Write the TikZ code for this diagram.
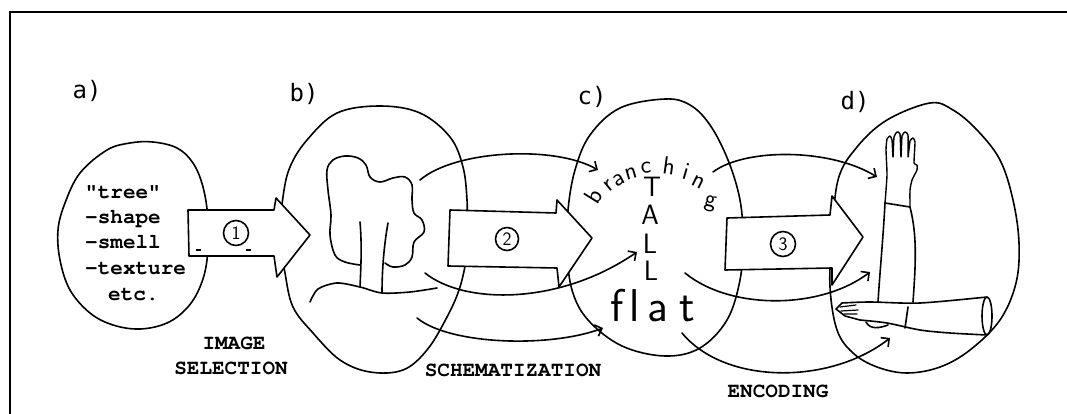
\documentclass[tikz,border=0pt]{standalone}
\usepackage{fontspec}
\newfontfamily\monofam{TeX Gyre Cursor}
\newfontfamily\labfam{DejaVu Sans Mono}
\usetikzlibrary{arrows.meta}
\begin{document}
\begin{tikzpicture}[x=1pt,y=-1pt]
\tikzset{
  ink/.style={line width=1.6pt, line cap=round, line join=round},
  bigarr/.style={ink, draw, fill=white},
  conn/.style={ink, -{Straight Barb[length=6pt,width=12pt]}},
  monotxt/.style={font=\monofam\bfseries\fontsize{21}{25}\selectfont, inner sep=0pt},
  tag/.style={font=\labfam\fontsize{24}{28}\selectfont, inner sep=0pt},
  handw/.style={font=\sffamily\fontsize{25}{30}\selectfont, inner sep=0pt},
  tallw/.style={font=\sffamily\fontsize{28}{30}\selectfont, inner sep=0pt},
  flatw/.style={font=\sffamily\fontsize{46}{50}\selectfont, inner sep=0pt, anchor=base},
  numc/.style={circle, draw, ink, fill=white, inner sep=0pt, minimum size=25pt, font=\sffamily\fontsize{19}{19}\selectfont},
}
\useasboundingbox (0,0) rectangle (1067,414);
% frame
\draw[line width=2.5pt] (1067,12) -- (10,12) -- (10,414);

% blobs
\draw[ink] plot[smooth cycle, tension=0.6] coordinates {(153,142) (177,148) (193,163) (203,187) (208,220) (207,260) (200,287) (187,308) (167,323) (140,329) (113,325) (90,313) (70,290) (60,260) (58,230) (65,203) (80,173) (107,150) (130,143)};
\draw[ink] plot[smooth cycle, tension=0.6] coordinates {(380,106) (420,113) (450,137) (463,167) (467,200) (467,227) (467,253) (460,287) (447,317) (427,350) (403,370) (370,372) (340,360) (313,333) (293,307) (285,273) (280,237) (283,197) (290,167) (307,140) (337,113)};
\draw[ink] plot[smooth cycle, tension=0.6] coordinates {(665,99) (690,105) (710,125) (728,160) (740,200) (743,240) (740,280) (727,320) (700,348) (665,356) (622,346) (588,320) (572,290) (567,250) (568,210) (575,170) (590,135) (620,108)};
\draw[ink] plot[smooth cycle, tension=0.6] coordinates {(930,103) (953,110) (977,130) (1000,160) (1013,200) (1019,243) (1016,283) (1000,320) (970,350) (940,367) (907,373) (877,367) (853,353) (837,330) (830,287) (832,240) (838,180) (857,147) (887,120)};

% tree
\draw[ink] plot[smooth, tension=0.6] coordinates {(360,265) (345,262) (335,255) (330,235) (331,215) (328,190) (327,170) (333,160) (345,156) (358,158) (366,165) (370,177) (380,182) (393,178) (405,177) (412,185) (412,200) (414,213) (422,220) (424,232) (414,242) (412,257) (405,265) (393,267) (385,263)};
\draw[ink] (360,222) .. controls (362,245) and (361,265) .. (360,287);
\draw[ink] (388,223) .. controls (384,245) and (382,270) .. (382,293);
\draw[ink] plot[smooth] coordinates {(310,302) (318,289) (337,283) (360,287) (382,293) (410,292) (437,288)};

% connectors
\coordinate (bs1) at (420,180); \coordinate (ce1) at (598,170);
\coordinate (bs2) at (425,273); \coordinate (ce2) at (637,252);
\coordinate (bs3) at (417,318); \coordinate (ce3) at (603,328);
\coordinate (cs1) at (713,172); \coordinate (de1) at (877,177);
\coordinate (cs2) at (685,273); \coordinate (de2) at (870,272);
\coordinate (cs3) at (682,333); \coordinate (de3) at (890,338);
\draw[conn] (bs1) .. controls (455,150) and (555,145) .. (ce1);
\draw[conn] (bs2) .. controls (465,305) and (560,305) .. (ce2);
\draw[conn] (bs3) .. controls (450,345) and (550,348) .. (ce3);
\draw[conn] (cs1) .. controls (745,148) and (830,148) .. (de1);
\draw[conn] (cs2) .. controls (730,310) and (820,310) .. (de2);
\draw[conn] (cs3) .. controls (725,385) and (830,385) .. (de3);

% big arrows
\draw[bigarr] (188,210) -- (274,210) -- (276,198) -- (310,235) -- (277,277) -- (274,256) -- (189,256) -- cycle;
\draw[bigarr] (450,210) -- (556,213) -- (557,200) -- (592,238) -- (559,287) -- (557,268) -- (448,266) -- cycle;
\draw[bigarr] (727,218) -- (830,215) -- (832,196) -- (863,237) -- (832,285) -- (832,268) -- (725,270) -- cycle;
\node[numc] (n1) at (236,233) {1};
\node[numc, minimum size=23pt] (n2) at (507,239) {2};
\node[numc] (n3) at (783,244) {3};
\draw[line width=1.2pt] (196,250) -- (201,250) (246,250) -- (251,250);

% labels
\node[tag] (la) at (87,91) {a)};
\node[tag] (lb) at (304,94) {b)};
\node[tag] (lc) at (592,97) {c)};
\node[tag] (ld) at (855,102) {d)};

% text in a
\node[monotxt, anchor=base west] (t1) at (85,198) {"tree"};
\node[monotxt, anchor=base west] (t2) at (85,223) {-shape};
\node[monotxt, anchor=base west] (t3) at (85,248) {-smell};
\node[monotxt, anchor=base west] (t4) at (85,274) {-texture};
\node[monotxt, anchor=base west] (t5) at (108,300) {etc.};

% captions
\node[monotxt] (cap1) at (234,343) {IMAGE};
\node[monotxt] (cap2) at (231,368) {SELECTION};
\node[monotxt] (cap3) at (513,370) {SCHEMATIZATION};
\node[monotxt] (cap4) at (778,391) {ENCODING};

% handwriting in c
\node[handw, rotate=58] (w1) at (593,196) {b};
\node[handw, rotate=40] (w2) at (609,186) {r};
\node[handw, rotate=28] (w3) at (619,180) {a};
\node[handw, rotate=16] (w4) at (631,174) {n};
\node[handw, rotate=4] (w5) at (646,168) {c};
\node[handw, rotate=-8] (w6) at (669,166) {h};
\node[handw, rotate=-16] (w7) at (686,171) {i};
\node[handw, rotate=-26] (w8) at (698,182) {n};
\node[handw, rotate=-12] (w9) at (710,204) {g};
\node[tallw] (T1) at (652,187) {T};
\node[tallw] (T2) at (650,215) {A};
\node[tallw] (T3) at (650,244) {L};
\node[tallw] (T4) at (651,271) {L};
\node[flatw] (f1) at (617,321) {f};
\node[flatw] (f2) at (635,321) {l};
\node[flatw] (f3) at (658,321) {a};
\node[flatw] (f4) at (687,321) {t};

% raised arm
\draw[ink] (885,203) .. controls (883,240) and (880,270) .. (878,302);
\draw[ink] (910,207) .. controls (917,235) and (916,260) .. (913,302);
\draw[ink] (885,203) -- (910,207);
\draw[ink, line width=1.4pt] plot[smooth, tension=0.3] coordinates {(885,203) (887,175) (886,150) (887,139) (890,136) (892,140) (893,157) (894,137) (897,132) (900,134) (901,157) (902,136) (905,132) (908,135) (908,157) (910,141) (913,138) (915,142) (914,163) (917,165) (917,170) (912,180) (910,190) (910,207)};

% horizontal arm
\draw[ink] plot[smooth] coordinates {(842,303) (870,302) (920,303) (987,297)};
\draw[ink] plot[smooth] coordinates {(860,320) (887,323) (920,330) (950,333) (987,335)};
\draw[ink] (987,316) ellipse [x radius=5pt, y radius=19pt];
\draw[ink] (908,307) -- (905,328);
\draw[ink] (842,303) -- (836,309) -- (845,316) -- (860,320);
\draw[ink, line width=1.2pt] (840,307) -- (856,305) (841,311) -- (858,310) (844,314) -- (857,314);
\draw[ink] (866,322) .. controls (870,330) and (880,328) .. (888,325);
\end{tikzpicture}
\end{document}
